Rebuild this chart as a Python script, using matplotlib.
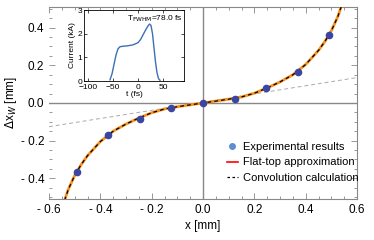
import matplotlib.pyplot as plt
from matplotlib.lines import Line2D
from matplotlib.ticker import MultipleLocator, FixedLocator

plt.rcParams['font.family'] = ['Liberation Sans', 'DejaVu Sans']

# measured points
exp_x = [-0.49, -0.37, -0.245, -0.125, 0.0, 0.125, 0.245, 0.37, 0.49]
exp_y = [-0.365, -0.172, -0.085, -0.028, 0.0, 0.023, 0.078, 0.167, 0.363]

# model curve
curve_x = [-0.56, -0.55, -0.525, -0.5, -0.475, -0.45, -0.4, -0.35, -0.3, -0.25, -0.2, -0.15, -0.1, -0.05,
           0.0, 0.05, 0.1, 0.15, 0.2, 0.25, 0.3, 0.35, 0.4, 0.45, 0.475, 0.5, 0.525, 0.55, 0.56]
curve_y = [-0.66, -0.56, -0.46, -0.385, -0.328, -0.28, -0.205, -0.15, -0.112, -0.08, -0.052, -0.032, -0.02, -0.01,
           0.0, 0.01, 0.02, 0.032, 0.052, 0.08, 0.112, 0.15, 0.205, 0.28, 0.328, 0.385, 0.46, 0.56, 0.66]

# linear estimate
lin_x = [-0.6, 0.6]
lin_y = [-0.126, 0.135]

# inset: current profile
t_fs = [-56, -52, -48, -44, -40, -36, -30, -20, -10, 0, 5, 10, 15, 20, 23, 26, 29, 32, 35, 38, 41, 44]
cur_kA = [0.05, 0.3, 0.7, 1.1, 1.36, 1.45, 1.47, 1.49, 1.53, 1.62, 1.75, 1.95, 2.15, 2.33, 2.41, 2.35,
          2.0, 1.4, 0.8, 0.35, 0.1, 0.03]

fig = plt.figure(figsize=(3.74, 2.4), dpi=100)
ax = fig.add_axes([0.131, 0.171, 0.824, 0.8])

ax.axhline(0, color='#888888', lw=1.0, zorder=1)
ax.axvline(0, color='#888888', lw=1.0, zorder=1)
ax.plot(lin_x, lin_y, color='#aaaaaa', lw=0.7, ls=(0, (4, 3)), zorder=2)
ax.plot(curve_x, curve_y, color='#f7931e', lw=2.0, zorder=3)
ax.plot(curve_x, curve_y, color='black', lw=0.9, ls=(0, (3, 2.5)), zorder=4)
ax.scatter(exp_x, exp_y, s=20, color='#3a46a0', zorder=5)

ax.set_xlim(-0.6, 0.6)
ax.set_ylim(-0.51, 0.51)
ax.xaxis.set_major_locator(FixedLocator([-0.6, -0.4, -0.2, 0.0, 0.2, 0.4, 0.6]))
ax.yaxis.set_major_locator(FixedLocator([-0.4, -0.2, 0.0, 0.2, 0.4]))
ax.xaxis.set_minor_locator(MultipleLocator(0.05))
ax.yaxis.set_minor_locator(MultipleLocator(0.05))
ax.set_xticklabels(['- 0.6', '- 0.4', '- 0.2', '0.0', '0.2', '0.4', '0.6'])
ax.set_yticklabels(['- 0.4', '- 0.2', '0.0', '0.2', '0.4'])
ax.tick_params(which='both', direction='in', top=True, right=True, color='#888888',
               labelsize=8.5, width=0.6)
ax.tick_params(which='major', length=4)
ax.tick_params(which='minor', length=2)
for side in ['top', 'right', 'bottom']:
    ax.spines[side].set_color('#888888')
    ax.spines[side].set_linewidth(0.8)
ax.spines['left'].set_visible(False)

ax.set_xlabel('x [mm]', fontsize=8.5, labelpad=3)
ax.set_ylabel(r'$\Delta$x$_W$ [mm]', fontsize=8.5, labelpad=1)

handles = [
    Line2D([], [], marker='o', ls='none', color='#5b8fd0', markersize=4),
    Line2D([], [], color='red', lw=1.2),
    Line2D([], [], color='black', lw=0.9, ls=(0, (2, 2))),
]
ax.legend(handles, ['Experimental results', 'Flat-top approximation', 'Convolution calculation'],
          loc='lower right', bbox_to_anchor=(1.02, 0.06), frameon=False, fontsize=8,
          handlelength=1.0, handletextpad=0.5, labelspacing=0.5, borderaxespad=0)

# inset
ins = fig.add_axes([0.2246, 0.6625, 0.2674, 0.2955])
ins.plot(t_fs, cur_kA, color='#3d6fb6', lw=1.0)
ins.set_xlim(-108, 92)
ins.set_ylim(0, 3)
ins.xaxis.set_major_locator(FixedLocator([-100, -50, 0, 50]))
ins.yaxis.set_major_locator(FixedLocator([0, 1, 2, 3]))
ins.tick_params(direction='in', top=True, right=True, length=2.5, width=0.5,
                labelsize=6, pad=1.5)
ins.tick_params(axis='x', pad=2.5)
for s in ins.spines.values():
    s.set_linewidth(0.6)
ins.set_xlabel('t (fs)', fontsize=6, labelpad=0)
ins.set_ylabel('Current (kA)', fontsize=6, labelpad=1)
ins.text(0.99, 0.95, r'T$_{\rm FWHM}$=78.0 fs', transform=ins.transAxes, ha='right', va='top',
         fontsize=6)

fig.savefig('out.png', dpi=100)
